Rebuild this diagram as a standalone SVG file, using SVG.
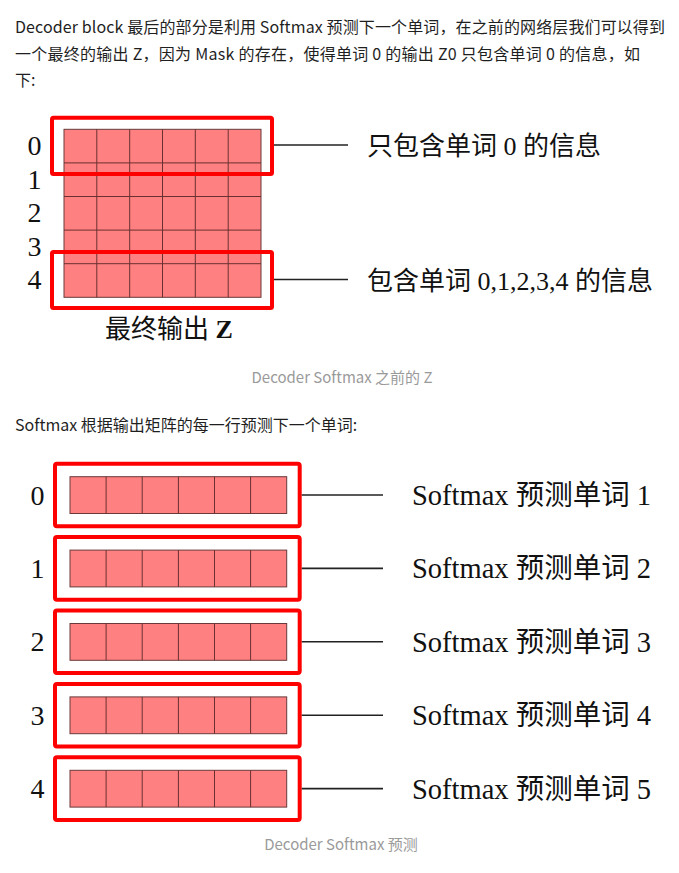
<svg xmlns="http://www.w3.org/2000/svg" width="679" height="873" viewBox="0 0 679 873">
<style>
.p{font-family:"Noto Sans CJK SC","Noto Sans",sans-serif;font-size:16px;fill:#1f1f1f}
.cap{font-family:"Noto Sans CJK SC","Noto Sans",sans-serif;font-size:15px;fill:#9a9a9a;text-anchor:middle}
.d{font-family:"Liberation Serif","Noto Sans CJK SC",serif;fill:#111}
.num{font-size:28px;text-anchor:middle}
.lbl{font-size:26px}
.lbl2{font-size:28.5px}
.cell{fill:#ff8080;stroke:#6a3a3a;stroke-width:1}
.gl{stroke:#6a3030;stroke-width:1;fill:none}
.box{fill:none;stroke:#ff0000;stroke-width:4}
.con{stroke:#222;stroke-width:1.6;fill:none}
</style>
<rect width="679" height="873" fill="#fff"/>
<g id="intro">
<text class="p" x="15" y="33" textLength="650" lengthAdjust="spacing">Decoder block 最后的部分是利用 Softmax 预测下一个单词，在之前的网络层我们可以得到</text>
<text class="p" x="15" y="60" textLength="625" lengthAdjust="spacing">一个最终的输出 Z，因为 Mask 的存在，使得单词 0 的输出 Z0 只包含单词 0 的信息，如</text>
<text class="p" x="15" y="86">下:</text>
</g>
<g id="matrix-z">
<rect class="cell" x="64" y="129.3" width="197" height="168"/>
<path class="gl" d="M96.8 129.3V297.3M129.7 129.3V297.3M162.5 129.3V297.3M195.3 129.3V297.3M228.2 129.3V297.3M64 162.9H261M64 196.5H261M64 230.1H261M64 263.7H261"/>
<g class="d num">
<text x="34.5" y="155">0</text>
<text x="34.5" y="189">1</text>
<text x="34.5" y="222">2</text>
<text x="34.5" y="256">3</text>
<text x="34.5" y="289">4</text>
</g>
<text class="d lbl" x="105" y="338">最终输出 <tspan font-weight="bold">Z</tspan></text>
</g>
<g id="box-row0"><rect class="box" x="52" y="117.7" width="220" height="56.3" rx="1.5"/></g>
<g id="box-row4"><rect class="box" x="52" y="252" width="220" height="56" rx="1.5"/></g>
<g id="label-row0"><text class="d lbl" x="367" y="155">只包含单词 0 的信息</text></g>
<g id="label-row4"><text class="d lbl" x="367" y="290">包含单词 0,1,2,3,4 的信息</text></g>
<g id="caption1"><text class="cap" x="342" y="383">Decoder Softmax 之前的 Z</text></g>
<g id="intro2"><text class="p" x="15" y="431">Softmax 根据输出矩阵的每一行预测下一个单词:</text></g>
<defs>
<g id="rowcells">
<rect class="cell" x="70" y="0" width="216.7" height="36.8"/>
<path class="gl" d="M106.1 0V36.8M142.2 0V36.8M178.4 0V36.8M214.5 0V36.8M250.6 0V36.8"/>
</g>
</defs>
<g id="row0"><rect class="box" x="55" y="463.7" width="244.7" height="62.6" rx="2"/><use href="#rowcells" y="476.7"/><text class="d num" x="37.5" y="504.5">0</text><text class="d lbl2" x="412" y="505">Softmax 预测单词 1</text></g>
<g id="row1"><rect class="box" x="55" y="537.1" width="244.7" height="62.6" rx="2"/><use href="#rowcells" y="550.1"/><text class="d num" x="37.5" y="577.9">1</text><text class="d lbl2" x="412" y="578.4">Softmax 预测单词 2</text></g>
<g id="row2"><rect class="box" x="55" y="610.5" width="244.7" height="62.6" rx="2"/><use href="#rowcells" y="623.5"/><text class="d num" x="37.5" y="651.3">2</text><text class="d lbl2" x="412" y="651.8">Softmax 预测单词 3</text></g>
<g id="row3"><rect class="box" x="55" y="683.9" width="244.7" height="62.6" rx="2"/><use href="#rowcells" y="696.9"/><text class="d num" x="37.5" y="724.7">3</text><text class="d lbl2" x="412" y="725.2">Softmax 预测单词 4</text></g>
<g id="row4"><rect class="box" x="55" y="757.3" width="244.7" height="62.6" rx="2"/><use href="#rowcells" y="770.3"/><text class="d num" x="37.5" y="798.1">4</text><text class="d lbl2" x="412" y="798.6">Softmax 预测单词 5</text></g>
<g id="caption2"><text class="cap" x="341" y="850">Decoder Softmax 预测</text></g>
<g id="connectors">
<path class="con" d="M274 145H348"/>
<path class="con" d="M274 279.5H348"/>
<path class="con" d="M301.7 495H383"/>
<path class="con" d="M301.7 568.4H383"/>
<path class="con" d="M301.7 641.8H383"/>
<path class="con" d="M301.7 715.2H383"/>
<path class="con" d="M301.7 788.6H383"/>
</g>
</svg>
